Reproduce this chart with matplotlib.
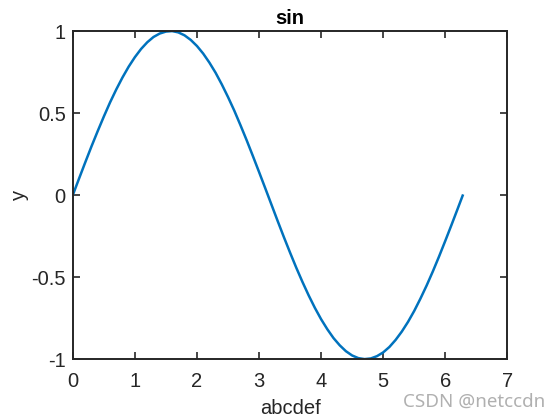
import matplotlib
matplotlib.use("Agg")
import matplotlib.pyplot as plt

x_vals = [0.0, 0.1, 0.2, 0.3, 0.4, 0.5, 0.6, 0.7, 0.8, 0.9,
          1.0, 1.1, 1.2, 1.3, 1.4, 1.5, 1.6, 1.7, 1.8, 1.9,
          2.0, 2.1, 2.2, 2.3, 2.4, 2.5, 2.6, 2.7, 2.8, 2.9,
          3.0, 3.1, 3.2, 3.3, 3.4, 3.5, 3.6, 3.7, 3.8, 3.9,
          4.0, 4.1, 4.2, 4.3, 4.4, 4.5, 4.6, 4.7, 4.8, 4.9,
          5.0, 5.1, 5.2, 5.3, 5.4, 5.5, 5.6, 5.7, 5.8, 5.9,
          6.0, 6.1, 6.2, 6.28]
y_vals = [0.000, 0.100, 0.199, 0.296, 0.389, 0.479, 0.565, 0.644, 0.717, 0.783,
          0.841, 0.891, 0.932, 0.964, 0.985, 0.997, 1.000, 0.992, 0.974, 0.946,
          0.909, 0.863, 0.808, 0.746, 0.675, 0.598, 0.516, 0.427, 0.335, 0.239,
          0.141, 0.042, -0.058, -0.158, -0.256, -0.351, -0.443, -0.530, -0.612, -0.688,
          -0.757, -0.818, -0.872, -0.916, -0.952, -0.978, -0.994, -1.000, -0.996, -0.982,
          -0.959, -0.926, -0.883, -0.832, -0.773, -0.706, -0.631, -0.551, -0.465, -0.374,
          -0.279, -0.182, -0.083, -0.003]
x_ticks = [0, 1, 2, 3, 4, 5, 6, 7]
y_ticks = [-1, -0.5, 0, 0.5, 1]
y_tick_labels = ["-1", "-0.5", "0", "0.5", "1"]

plt.rcParams['font.family'] = ['Liberation Sans', 'DejaVu Sans']

fig = plt.figure(figsize=(5.6, 4.2), dpi=100)
ax = fig.add_axes([0.130, 0.145, 0.776, 0.781])
ax.plot(x_vals, y_vals, color='#0072BD', linewidth=1.8)
ax.set_xlim(0, 7)
ax.set_ylim(-1, 1)
ax.set_xticks(x_ticks)
ax.set_xticklabels([str(t) for t in x_ticks])
ax.set_yticks(y_ticks)
ax.set_yticklabels(y_tick_labels)
dark = '#262626'
for s in ax.spines.values():
    s.set_color(dark)
    s.set_linewidth(1.4)
ax.tick_params(direction='in', length=5, width=1.2, color=dark, labelcolor=dark,
               labelsize=14.5, top=True, right=True)
ax.tick_params(axis='x', pad=9)
ax.tick_params(axis='y', pad=5)
ax.set_title('sin', fontsize=14.5, fontweight='bold', color='black', pad=5)
ax.set_xlabel('abcdef', fontsize=14.5, color=dark, labelpad=6)
ax.set_ylabel('y', fontsize=14.5, color=dark, labelpad=2)
fig.text(0.973, 0.043, 'CSDN @netccdn', fontsize=13.5, color='#b0b0b0',
         ha='right', va='center', family=['Noto Sans', 'DejaVu Sans'])
fig.savefig('out.png', dpi=100)
